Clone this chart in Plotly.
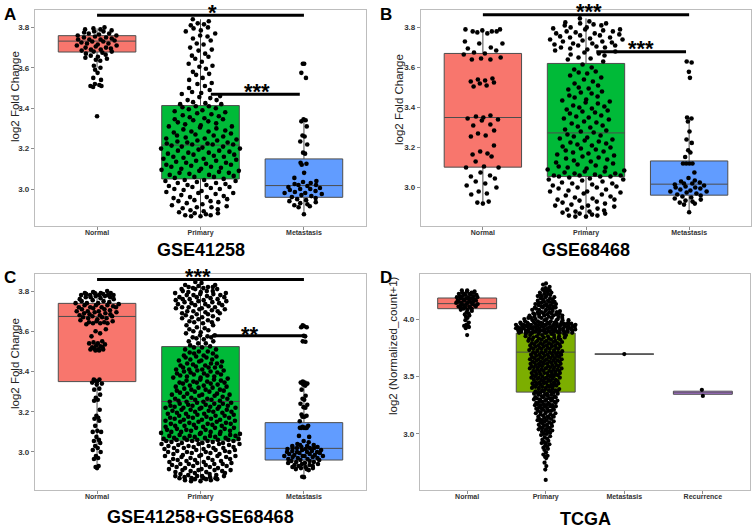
import numpy as np
import plotly.graph_objects as go

# ---------------- data ----------------
cats3 = ["Normal", "Primary", "Metastasis"]
cats4 = ["Normal", "Primary", "Metastasis", "Recurrence"]
colors3 = ["#F8766D", "#00BA38", "#619CFF"]
colors4 = ["#F8766D", "#7CAE00", "#00BFC4", "#C77CFF"]

a_normal = [3.80, 3.795, 3.79, 3.79, 3.785, 3.78, 3.78, 3.775, 3.77, 3.77, 3.765, 3.76, 3.76, 3.755,
            3.75, 3.75, 3.745, 3.74, 3.74, 3.74, 3.735, 3.73, 3.73, 3.725, 3.72, 3.72, 3.715, 3.71,
            3.71, 3.705, 3.70, 3.70, 3.695, 3.69, 3.69, 3.685, 3.68, 3.68, 3.675, 3.67, 3.665, 3.66,
            3.655, 3.65, 3.645, 3.64, 3.635, 3.61, 3.60, 3.59, 3.575, 3.55, 3.54, 3.52, 3.515, 3.51,
            3.51, 3.505, 3.36]
a_primary = [3.84, 3.83, 3.82, 3.815, 3.81, 3.80, 3.795, 3.785, 3.78, 3.77, 3.76, 3.755, 3.745, 3.735,
             3.72, 3.715, 3.70, 3.69, 3.685, 3.67, 3.66, 3.655, 3.645, 3.63, 3.62, 3.61, 3.605, 3.595,
             3.58, 3.57, 3.565, 3.55, 3.54, 3.525, 3.52, 3.51, 3.50, 3.49, 3.48, 3.475, 3.47, 3.46,
             3.455, 3.45, 3.44, 3.44, 3.43, 3.425, 3.42, 3.42,
             3.41, 3.41, 3.405, 3.40, 3.395, 3.39, 3.385, 3.38, 3.375, 3.37, 3.365, 3.36, 3.355, 3.35,
             3.345, 3.34, 3.335, 3.33, 3.325, 3.32, 3.315, 3.31, 3.305, 3.30, 3.295, 3.29, 3.285, 3.28,
             3.275, 3.27, 3.265, 3.26, 3.255, 3.25, 3.25, 3.245, 3.24, 3.24, 3.235, 3.23, 3.23, 3.225,
             3.225, 3.22, 3.22, 3.22, 3.265, 3.285, 3.31, 3.345,
             3.215, 3.21, 3.21, 3.205, 3.20, 3.20, 3.195, 3.19, 3.19, 3.185, 3.18, 3.18, 3.175, 3.17,
             3.17, 3.165, 3.16, 3.16, 3.155, 3.15, 3.15, 3.145, 3.14, 3.14, 3.135, 3.13, 3.13, 3.125,
             3.12, 3.12, 3.115, 3.11, 3.11, 3.105, 3.10, 3.10, 3.095, 3.09, 3.09, 3.085, 3.08, 3.08,
             3.075, 3.07, 3.07, 3.065, 3.06, 3.06, 3.055, 3.05,
             3.045, 3.045, 3.04, 3.04, 3.035, 3.03, 3.03, 3.025, 3.02, 3.02, 3.015, 3.01, 3.01, 3.005,
             3.00, 3.00, 2.995, 2.99, 2.985, 2.98, 2.98, 2.975, 2.97, 2.965, 2.96, 2.96, 2.955, 2.95,
             2.945, 2.94, 2.94, 2.935, 2.93, 2.925, 2.92, 2.915, 2.91, 2.91, 2.905, 2.90, 2.895, 2.89,
             2.885, 2.88, 2.88, 2.875, 2.87, 2.87, 2.865, 2.865]
a_metastasis = [3.62, 3.62, 3.575, 3.55, 3.345, 3.34, 3.335, 3.31, 3.265, 3.26, 3.235, 3.22, 3.18, 3.175,
                3.13, 3.125, 3.12, 3.08, 3.055, 3.04, 3.035, 3.03, 3.025, 3.02, 3.02, 3.015, 3.01, 3.005,
                3.00, 3.00, 2.995, 2.99, 2.985, 2.98, 2.98, 2.975, 2.97, 2.965, 2.96, 2.955, 2.95, 2.945,
                2.94, 2.935, 2.93, 2.925, 2.92, 2.915, 2.91, 2.875]

b_normal = [3.79, 3.79, 3.785, 3.78, 3.78, 3.78, 3.775, 3.77, 3.73, 3.72, 3.72, 3.70, 3.695, 3.685,
            3.675, 3.67, 3.665, 3.65, 3.645, 3.64, 3.64, 3.545, 3.54, 3.535, 3.53, 3.525, 3.52, 3.51,
            3.505, 3.36, 3.355, 3.35, 3.345, 3.34, 3.335, 3.315, 3.31, 3.285, 3.27, 3.26, 3.255, 3.21,
            3.18, 3.17, 3.165, 3.155, 3.13, 3.105, 3.10, 3.10, 3.075, 3.06, 3.055, 3.045, 3.03, 3.02,
            3.01, 3.00, 2.98, 2.97, 2.965, 2.93, 2.925, 2.92]
b_primary = [3.845, 3.83, 3.825, 3.82, 3.82, 3.815, 3.81, 3.81, 3.80, 3.80, 3.795, 3.79, 3.79, 3.785,
             3.78, 3.78, 3.775, 3.77, 3.77, 3.765, 3.76, 3.76, 3.755, 3.75, 3.75, 3.745, 3.74, 3.74,
             3.735, 3.73, 3.73, 3.725, 3.72, 3.72, 3.715, 3.71, 3.71, 3.705, 3.70, 3.70, 3.695, 3.69,
             3.685, 3.68, 3.675, 3.67, 3.665, 3.66, 3.65, 3.645, 3.64, 3.63,
             3.615, 3.60, 3.59, 3.58, 3.575, 3.57, 3.56, 3.55, 3.54, 3.53, 3.52, 3.51, 3.50, 3.495,
             3.49, 3.48, 3.475, 3.47, 3.46, 3.455, 3.45, 3.44, 3.435, 3.43, 3.425, 3.42, 3.41, 3.405,
             3.40, 3.395, 3.39, 3.385, 3.38, 3.375, 3.37, 3.36, 3.355, 3.35, 3.345, 3.34, 3.33, 3.325,
             3.32, 3.31, 3.305, 3.30, 3.29, 3.285, 3.28, 3.275,
             3.265, 3.26, 3.255, 3.25, 3.245, 3.24, 3.235, 3.23, 3.225, 3.22, 3.215, 3.21, 3.205, 3.20,
             3.195, 3.19, 3.185, 3.18, 3.175, 3.17, 3.165, 3.16, 3.155, 3.15, 3.145, 3.14, 3.135, 3.13,
             3.125, 3.12, 3.115, 3.11, 3.105, 3.10, 3.10, 3.095, 3.09, 3.085, 3.08, 3.08, 3.075, 3.07,
             3.07, 3.065, 3.06, 3.06, 3.06, 3.055, 3.055, 3.055,
             3.05, 3.045, 3.04, 3.04, 3.035, 3.03, 3.025, 3.02, 3.02, 3.015, 3.01, 3.005, 3.00, 3.00,
             2.995, 2.99, 2.985, 2.98, 2.98, 2.975, 2.97, 2.965, 2.96, 2.955, 2.95, 2.945, 2.94, 2.94,
             2.935, 2.93, 2.925, 2.92, 2.915, 2.91, 2.91, 2.905, 2.90, 2.895, 2.89, 2.885, 2.88, 2.88,
             2.875, 2.87, 2.87, 2.865, 2.86, 2.86, 2.855, 2.855]
b_metastasis = [3.63, 3.625, 3.578, 3.548, 3.35, 3.345, 3.33, 3.28, 3.24, 3.223, 3.186, 3.175, 3.153,
                3.12, 3.12, 3.12, 3.12, 3.075, 3.048, 3.035, 3.03, 3.025, 3.02, 3.02, 3.015, 3.01, 3.005,
                3.00, 3.00, 2.995, 2.99, 2.985, 2.98, 2.98, 2.975, 2.97, 2.965, 2.96, 2.955, 2.95, 2.945,
                2.94, 2.935, 2.93, 2.925, 2.92, 2.915, 2.877]

# panel C is the two GEO datasets pooled together
c_normal = a_normal + b_normal
c_primary = a_primary + b_primary
c_metastasis = a_metastasis + b_metastasis

d_normal = [4.25, 4.25, 4.24, 4.24, 4.23, 4.23, 4.23, 4.22, 4.22, 4.22, 4.21, 4.21, 4.21, 4.20, 4.20,
            4.20, 4.19, 4.19, 4.19, 4.18, 4.18, 4.18, 4.17, 4.17, 4.17, 4.16, 4.16, 4.16, 4.15, 4.15,
            4.15, 4.14, 4.14, 4.14, 4.13, 4.13, 4.13, 4.12, 4.12, 4.12, 4.11, 4.11, 4.11, 4.10, 4.10,
            4.10, 4.09, 4.09, 4.08, 4.08, 4.07, 4.06, 4.05, 4.04, 4.03, 4.02, 4.01, 3.99, 3.97, 3.95,
            3.94, 3.94, 3.93, 3.92, 3.86]
d_primary = [4.31, 4.30,
             4.28, 4.27, 4.26, 4.26, 4.25, 4.25, 4.24,
             4.23, 4.23, 4.22, 4.22, 4.21, 4.21, 4.20, 4.20, 4.20, 4.19, 4.19, 4.18, 4.18, 4.17, 4.17,
             4.16, 4.16,
             4.15, 4.15, 4.15, 4.14, 4.14, 4.14, 4.13, 4.13, 4.13, 4.12, 4.12, 4.12, 4.11, 4.11, 4.11,
             4.10, 4.10, 4.10, 4.09, 4.09, 4.09, 4.08, 4.08, 4.08, 4.07, 4.07, 4.07,
             4.06, 4.06, 4.06, 4.06, 4.05, 4.05, 4.05, 4.05, 4.04, 4.04, 4.04, 4.04, 4.03, 4.03, 4.03,
             4.03, 4.02, 4.02, 4.02, 4.02, 4.01, 4.01, 4.01, 4.01, 4.01, 4.00, 4.00, 4.00, 4.00, 3.99,
             3.99, 3.99, 3.99, 3.99, 3.98, 3.98, 3.98,
             3.97, 3.97, 3.97, 3.97, 3.97, 3.97, 3.97, 3.97,
             3.96, 3.96, 3.96, 3.96, 3.96, 3.96, 3.96, 3.96, 3.96,
             3.95, 3.95, 3.95, 3.95, 3.95, 3.95, 3.95, 3.95, 3.95, 3.95,
             3.94, 3.94, 3.94, 3.94, 3.94, 3.94, 3.94, 3.94, 3.94, 3.94,
             3.93, 3.93, 3.93, 3.93, 3.93, 3.93, 3.93, 3.93, 3.93, 3.93,
             3.92, 3.92, 3.92, 3.92, 3.92, 3.92, 3.92, 3.92, 3.92,
             3.91, 3.91, 3.91, 3.91, 3.91, 3.91, 3.91, 3.91, 3.91,
             3.90, 3.90, 3.90, 3.90, 3.90, 3.90, 3.90, 3.90, 3.90,
             3.89, 3.89, 3.89, 3.89, 3.89, 3.89, 3.89, 3.89, 3.89,
             3.88, 3.88, 3.88, 3.88, 3.88, 3.88, 3.88, 3.88, 3.88,
             3.87, 3.87, 3.87, 3.87, 3.86, 3.86, 3.86, 3.86, 3.85, 3.85, 3.85, 3.85, 3.84, 3.84, 3.84,
             3.84, 3.83, 3.83, 3.83, 3.83, 3.82, 3.82, 3.82, 3.82, 3.81, 3.81, 3.81, 3.81, 3.80, 3.80,
             3.80, 3.80, 3.79, 3.79, 3.79, 3.79, 3.78, 3.78, 3.78, 3.78,
             3.77, 3.77, 3.77, 3.77, 3.76, 3.76, 3.76, 3.76, 3.75, 3.75, 3.75, 3.75, 3.74, 3.74, 3.74,
             3.74, 3.73, 3.73, 3.73, 3.73, 3.72, 3.72, 3.72, 3.72, 3.71, 3.71, 3.71, 3.71, 3.70, 3.70,
             3.70, 3.70, 3.70, 3.69, 3.69, 3.69, 3.69,
             3.68, 3.68, 3.68, 3.68, 3.67, 3.67, 3.67, 3.67, 3.66, 3.66, 3.66, 3.66, 3.65, 3.65, 3.65,
             3.65, 3.64, 3.64, 3.64, 3.64, 3.63, 3.63, 3.63, 3.63, 3.62, 3.62, 3.62, 3.62, 3.61, 3.61,
             3.61, 3.61, 3.61, 3.60, 3.60, 3.60, 3.60,
             3.59, 3.59, 3.59, 3.59, 3.58, 3.58, 3.58, 3.58, 3.57, 3.57, 3.57, 3.57, 3.56, 3.56, 3.56,
             3.56, 3.55, 3.55, 3.55, 3.55, 3.54, 3.54, 3.54, 3.54, 3.53, 3.53, 3.53, 3.53, 3.52, 3.52,
             3.52, 3.52, 3.51, 3.51, 3.51,
             3.50, 3.50, 3.50, 3.50, 3.49, 3.49, 3.49, 3.49, 3.48, 3.48, 3.48, 3.47, 3.47, 3.47, 3.47,
             3.46, 3.46, 3.46, 3.45, 3.45, 3.45, 3.45, 3.44, 3.44, 3.44, 3.43, 3.43, 3.43, 3.43, 3.42,
             3.42, 3.42,
             3.41, 3.41, 3.41, 3.41, 3.40, 3.40, 3.40, 3.39, 3.39, 3.39, 3.39, 3.38, 3.38, 3.38, 3.37,
             3.37, 3.37, 3.37, 3.36, 3.36, 3.36, 3.35, 3.35, 3.35, 3.34, 3.34, 3.34, 3.33, 3.33, 3.33,
             3.32, 3.32, 3.32, 3.31, 3.31, 3.31, 3.30, 3.30, 3.30, 3.29, 3.29, 3.29, 3.28, 3.28, 3.28,
             3.27, 3.27, 3.27, 3.26, 3.26, 3.26, 3.25, 3.25, 3.25, 3.25,
             3.24, 3.24, 3.24, 3.23, 3.23, 3.22, 3.22, 3.22, 3.21, 3.21, 3.20, 3.20, 3.20, 3.19, 3.19,
             3.18, 3.18, 3.18, 3.17, 3.17, 3.16, 3.16,
             3.15, 3.15, 3.15, 3.14, 3.14, 3.13, 3.13, 3.12, 3.12, 3.12, 3.11, 3.11, 3.10, 3.10, 3.09,
             3.09, 3.08, 3.08, 3.07, 3.07,
             3.06, 3.06, 3.05, 3.05, 3.04, 3.04, 3.03, 3.03, 3.02, 3.02, 3.01, 3.00, 3.00, 2.99, 2.98,
             2.97, 2.96, 2.95, 2.94, 2.93, 2.92, 2.92, 2.91, 2.90, 2.89,
             2.88, 2.87, 2.86, 2.84, 2.82, 2.81,
             2.80, 2.79, 2.75, 2.72,
             2.69, 2.60]
d_metastasis = [3.695]
d_recurrence = [3.384, 3.331]

# box statistics: lower whisker, Q1, median, Q3, upper whisker
a_lo, a_q1, a_med, a_q3, a_hi = [3.60, 2.865, 2.875], [3.678, 3.05, 2.959], [3.732, 3.217, 3.017], [3.759, 3.413, 3.149], [3.795, 3.84, 3.345]
b_lo, b_q1, b_med, b_q3, b_hi = [2.92, 2.857, 2.875], [3.102, 3.055, 2.962], [3.35, 3.273, 3.017], [3.67, 3.62, 3.133], [3.79, 3.845, 3.35]
c_lo, c_q1, c_med, c_q3, c_hi = [2.92, 2.86, 2.875], [3.35, 3.056, 2.96], [3.674, 3.251, 3.018], [3.739, 3.524, 3.146], [3.795, 3.84, 3.345]
d_lo, d_q1, d_med, d_q3, d_hi = [3.95, 2.69, 3.695, 3.331], [4.09, 3.364, 3.695, 3.345], [4.134, 3.712, 3.695, 3.358], [4.183, 3.878, 3.695, 3.372], [4.255, 4.314, 3.695, 3.384]

# significance brackets: (from, to, level, label, label_x, label_y)
sig_a = [(0, 2, 3.860, "*", 1.12, 3.905), (1.10, 1.96, 3.469, "***", 1.55, 3.51)]
sig_b = [(0, 2, 3.863, "***", 1.03, 3.907), (1.10, 1.97, 3.678, "***", 1.53, 3.723)]
sig_c = [(0, 2, 3.858, "***", 0.98, 3.901), (1.11, 1.99, 3.578, "**", 1.48, 3.616)]

titles = ["GSE41258", "GSE68468", "GSE41258+GSE68468", "TCGA"]
letters = ["A", "B", "C", "D"]
ylabels = ["log2 Fold Change", "log2 Fold Change", "log2 Fold Change", "log2 (Normalized_count+1)"]


# ---------------- quasirandom (ggbeeswarm-style) horizontal offsets ----------------
def van_der_corput(n):
    out = []
    for i in range(1, n + 1):
        v, denom, k = 0.0, 1.0, i
        while k:
            denom *= 2
            k, r = divmod(k, 2)
            v += r / denom
        out.append(v)
    return np.array(out)


def quasirandom(y, width):
    y = np.asarray(y, float)
    n = len(y)
    if n < 2:
        return np.zeros(n)
    sd = y.std(ddof=1)
    q75, q25 = np.percentile(y, [75, 25])
    lo = min(sd, (q75 - q25) / 1.34) or sd
    bw = 0.9 * lo * n ** -0.2 * 0.5
    grid = np.linspace(y.min() - 3 * bw, y.max() + 3 * bw, 512)
    dens = np.exp(-0.5 * ((grid[:, None] - y[None, :]) / bw) ** 2).sum(1)
    dens /= dens.max()
    d = np.interp(y, grid, dens)
    ranks = np.argsort(np.argsort(y, kind="stable"), kind="stable")
    return (van_der_corput(n)[ranks] - 0.5) * 2 * d * width


panels = [
    dict(groups=[a_normal, a_primary, a_metastasis], cats=cats3, cols=colors3,
         stats=(a_lo, a_q1, a_med, a_q3, a_hi), sig=sig_a, yr=[2.817, 3.886],
         ticks=[3.0, 3.2, 3.4, 3.6, 3.8], dom_x=[35, 366], dom_y=[10, 226],
         letter_xy=(10, 15), title_y=250, ylab_xy=(15, 97), ylab_size=11.5, dot=4.6),
    dict(groups=[b_normal, b_primary, b_metastasis], cats=cats3, cols=colors3,
         stats=(b_lo, b_q1, b_med, b_q3, b_hi), sig=sig_b, yr=[2.808, 3.887],
         ticks=[3.0, 3.2, 3.4, 3.6, 3.8], dom_x=[421, 751], dom_y=[10, 226],
         letter_xy=(386, 15), title_y=250, ylab_xy=(399, 100), ylab_size=11.5, dot=4.6),
    dict(groups=[c_normal, c_primary, c_metastasis], cats=cats3, cols=colors3,
         stats=(c_lo, c_q1, c_med, c_q3, c_hi), sig=sig_c, yr=[2.811, 3.885],
         ticks=[3.0, 3.2, 3.4, 3.6, 3.8], dom_x=[35, 366], dom_y=[274, 490],
         letter_xy=(10, 277), title_y=517, ylab_xy=(15, 364), ylab_size=11.5, dot=4.6),
    dict(groups=[d_normal, d_primary, d_metastasis, d_recurrence], cats=cats4, cols=colors4,
         stats=(d_lo, d_q1, d_med, d_q3, d_hi), sig=[], yr=[2.512, 4.392],
         ticks=[3.0, 3.5, 4.0], dom_x=[420, 750], dom_y=[274, 490],
         letter_xy=(386, 277), title_y=519, ylab_xy=(393, 346), ylab_size=11.5, dot=4.2),
]

W, H = 753, 530
FONT = "Arial, 'Liberation Sans', sans-serif"
fig = go.Figure()
layout = dict(width=W, height=H, margin=dict(l=0, r=0, t=0, b=0), paper_bgcolor="white",
              plot_bgcolor="white", showlegend=False, boxmode="overlay", font=dict(family=FONT))
annotations, shapes = [], []

for p_i, p in enumerate(panels):
    sfx = "" if p_i == 0 else str(p_i + 1)
    xa, ya = "x" + sfx, "y" + sfx
    ncat = len(p["cats"])
    lo, q1, med, q3, hi = p["stats"]
    for g_i in range(ncat):
        fig.add_trace(go.Box(
            x=[g_i], lowerfence=[lo[g_i]], q1=[q1[g_i]], median=[med[g_i]], q3=[q3[g_i]],
            upperfence=[hi[g_i]], width=0.75, whiskerwidth=0, boxpoints=False,
            fillcolor=p["cols"][g_i], line=dict(color="#4D4D4D", width=1),
            xaxis=xa, yaxis=ya, hoverinfo="skip"))
    nmax = max(len(g) for g in p["groups"])
    for g_i, g in enumerate(p["groups"]):
        w = 0.4 * np.sqrt(len(g) / nmax)
        xs = g_i + quasirandom(g, w)
        fig.add_trace(go.Scatter(x=xs, y=g, mode="markers", marker=dict(color="black", size=p["dot"]),
                                 xaxis=xa, yaxis=ya, hoverinfo="skip"))
    x0, x1 = p["dom_x"]
    y0, y1 = p["dom_y"]
    xr = [-0.6, ncat - 0.4]
    yr = p["yr"]
    axis_common = dict(showgrid=False, zeroline=False, showline=True, mirror=True,
                       linecolor="#BDBDBD", linewidth=1.3, ticks="outside", ticklen=3,
                       tickcolor="#8C8C8C", tickwidth=1)
    layout["xaxis" + sfx] = dict(axis_common, domain=[x0 / W, x1 / W], range=xr,
                                 tickvals=list(range(ncat)), ticktext=p["cats"], anchor=ya,
                                 ticklabelstandoff=-4,
                                 tickfont=dict(size=7, color="#333333", weight="bold"))
    layout["yaxis" + sfx] = dict(axis_common, domain=[1 - y1 / H, 1 - y0 / H], range=yr,
                                 tickvals=p["ticks"], ticktext=["%.1f" % t for t in p["ticks"]],
                                 anchor=xa, tickfont=dict(size=8, color="#333333", weight="bold"))

    def px_x(v):
        return (x0 + (v - xr[0]) / (xr[1] - xr[0]) * (x1 - x0)) / W

    def px_y(v):
        return 1 - (y1 - (v - yr[0]) / (yr[1] - yr[0]) * (y1 - y0)) / H

    for (s0, s1, lvl, lab, lx, ly) in p["sig"]:
        shapes.append(dict(type="line", xref=xa, yref=ya, x0=s0, x1=s1, y0=lvl, y1=lvl,
                           line=dict(color="black", width=3)))
        annotations.append(dict(xref="paper", yref="paper", x=px_x(lx), y=px_y(ly), yshift=-6,
                                text=lab, showarrow=False, xanchor="center", yanchor="middle",
                                font=dict(size=22, color="black", weight="bold")))
    lx_, ly_ = p["letter_xy"]
    annotations.append(dict(xref="paper", yref="paper", x=lx_ / W, y=1 - ly_ / H,
                            text=letters[p_i], showarrow=False, xanchor="center", yanchor="middle",
                            font=dict(size=17, color="black", weight="bold")))
    annotations.append(dict(xref="paper", yref="paper", x=(x0 + x1) / 2 / W, y=1 - p["title_y"] / H,
                            text=titles[p_i], showarrow=False, xanchor="center", yanchor="middle",
                            font=dict(size=18, color="black", weight="bold")))
    yx, yy = p["ylab_xy"]
    annotations.append(dict(xref="paper", yref="paper", x=yx / W, y=1 - yy / H,
                            text=ylabels[p_i], showarrow=False, textangle=-90,
                            xanchor="center", yanchor="middle",
                            font=dict(size=p["ylab_size"], color="#222222")))

layout["annotations"] = annotations
layout["shapes"] = shapes
fig.update_layout(**layout)
fig.write_html("out.html", config={"displayModeBar": False},
               post_script="document.body.style.margin='0';document.body.style.overflow='hidden';")
